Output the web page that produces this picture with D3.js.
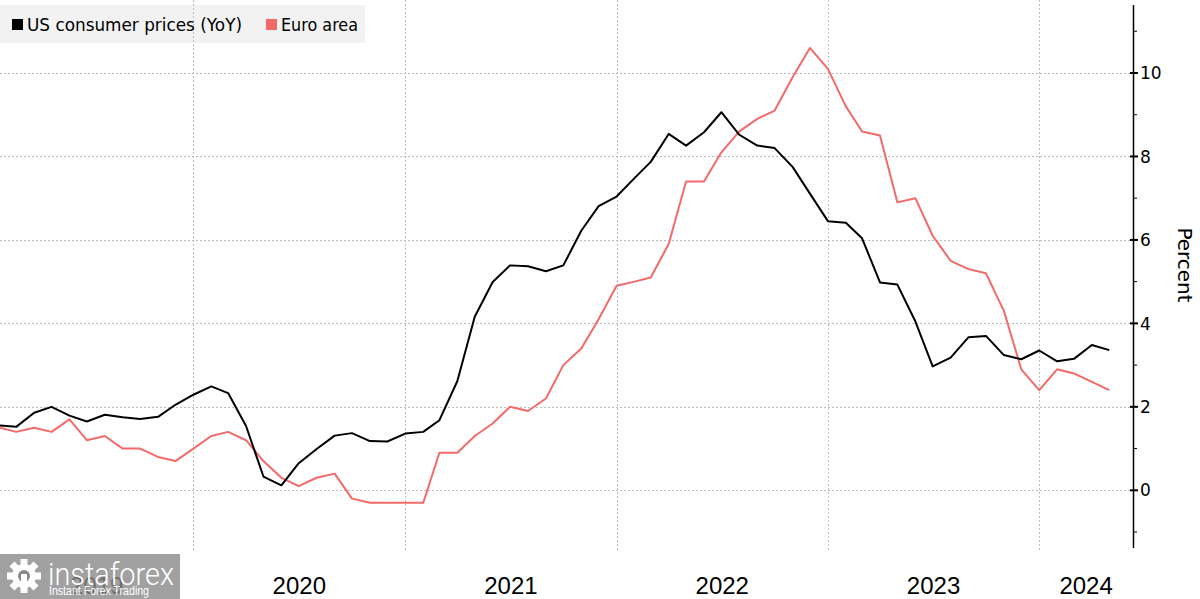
<!DOCTYPE html>
<html><head><meta charset="utf-8">
<script src="https://cdn.jsdelivr.net/npm/d3@7"></script>
<style>html,body{margin:0;padding:0;background:#fff;}svg{display:block;}</style>
</head><body>
<svg id="chart" width="1200" height="599"></svg>
<script>
// Monthly periods (values plotted at month end)
const months = d3.range(0, 64).map(i => d3.timeMonth.offset(new Date(2019, 0, 1), i));
const usCPI = [1.55,1.52,1.86,2.0,1.79,1.65,1.81,1.75,1.71,1.76,2.05,2.29,
  2.49,2.33,1.54,0.33,0.12,0.65,0.99,1.31,1.37,1.18,1.17,1.36,
  1.40,1.68,2.62,4.16,4.99,5.39,5.37,5.25,5.39,6.22,6.81,7.04,
  7.48,7.87,8.54,8.26,8.58,9.06,8.52,8.26,8.20,7.75,7.11,6.45,
  6.41,6.04,4.98,4.93,4.05,2.97,3.18,3.67,3.70,3.24,3.14,3.35,
  3.09,3.15,3.48,3.36];
const euroArea = [1.5,1.4,1.5,1.4,1.7,1.2,1.3,1.0,1.0,0.8,0.7,1.0,
  1.3,1.4,1.2,0.7,0.3,0.1,0.3,0.4,-0.2,-0.3,-0.3,-0.3,
  -0.3,0.9,0.9,1.3,1.6,2.0,1.9,2.2,3.0,3.4,4.1,4.9,
  5.0,5.1,5.9,7.4,7.4,8.1,8.6,8.9,9.1,9.9,10.6,10.1,
  9.2,8.6,8.5,6.9,7.0,6.1,5.5,5.3,5.2,4.3,2.9,2.4,
  2.9,2.8,2.6,2.4];
const yTicks = [0,2,4,6,8,10];
const yMinor = [-1,1,3,5,7,9,11];
const years = [2019,2020,2021,2022,2023,2024];
const seriesNames = ["US consumer prices (YoY)", "Euro area"];
const seriesColors = ["#000000", "#f26a6a"];

const svg = d3.select("#chart");
const axisX = 1133, plotTop = 5, plotBottom = 548;
const x = d3.scaleTime().domain([new Date(2019,1,1), new Date(2024,5,11)]).range([0, axisX]);
const y = d3.scaleLinear().domain([0, 10]).range([490.3, 73]);
const xPos = d => x(d3.timeMonth.offset(d, 1));

// legend background (under grid)
svg.append("rect").attr("x",0).attr("y",5).attr("width",365).attr("height",38).attr("fill","#f2f2f2");

// grid
const grid = svg.append("g").attr("stroke","#bdbdbd").attr("stroke-width",1).attr("stroke-dasharray","2,2");
grid.selectAll("line.h").data(yTicks).join("line").attr("class","h")
  .attr("x1",0).attr("x2",axisX).attr("y1",d=>Math.round(y(d))+0.5).attr("y2",d=>Math.round(y(d))+0.5);
const yearStarts = years.slice(1).map(yr => new Date(yr,0,1));
grid.selectAll("line.v").data(yearStarts).join("line").attr("class","v")
  .attr("x1",d=>Math.round(x(d))+0.5).attr("x2",d=>Math.round(x(d))+0.5).attr("y1",0).attr("y2",552);

// lines
const line = d3.line().x((d,i)=>xPos(months[i])).y(d=>y(d));
svg.append("path").datum(euroArea).attr("d",line).attr("fill","none")
  .attr("stroke",seriesColors[1]).attr("stroke-width",2).attr("stroke-linejoin","round");
svg.append("path").datum(usCPI).attr("d",line).attr("fill","none")
  .attr("stroke",seriesColors[0]).attr("stroke-width",2).attr("stroke-linejoin","round");

// right axis
const ax = svg.append("g");
ax.append("line").attr("x1",axisX+0.5).attr("x2",axisX+0.5).attr("y1",plotTop).attr("y2",plotBottom)
  .attr("stroke","#000").attr("stroke-width",1.5);
ax.selectAll("line.maj").data(yTicks).join("line").attr("class","maj")
  .attr("x1",axisX-3).attr("x2",axisX+5).attr("y1",d=>y(d)).attr("y2",d=>y(d))
  .attr("stroke","#000").attr("stroke-width",2);
ax.selectAll("line.min").data(yMinor).join("line").attr("class","min")
  .attr("x1",axisX).attr("x2",axisX+4).attr("y1",d=>y(d)).attr("y2",d=>y(d))
  .attr("stroke","#000").attr("stroke-width",1);
ax.selectAll("text").data(yTicks).join("text")
  .attr("x",axisX+7).attr("y",d=>y(d)).attr("dy","0.36em")
  .attr("font-family","DejaVu Sans, Verdana, sans-serif").attr("font-size",17).attr("fill","#000")
  .text(d=>d);
svg.append("text").attr("transform",`translate(1178,265) rotate(90)`).attr("text-anchor","middle")
  .attr("font-family","DejaVu Sans, Verdana, sans-serif").attr("font-size",20).attr("fill","#000").text("Percent");

// x labels
const [d0,d1] = x.domain();
svg.append("g").selectAll("text").data(years).join("text")
  .attr("x", yr => { const a = Math.max(x(new Date(yr,0,1)), x(d0)); const b = Math.min(x(new Date(yr+1,0,1)), x(d1)); return (a+b)/2; })
  .attr("y",594).attr("text-anchor","middle")
  .attr("font-family","Liberation Sans Narrow, Arial Narrow, sans-serif").attr("font-size",24).attr("fill","#000")
  .text(d=>d);

// legend
const lg = svg.append("g").attr("font-family","DejaVu Sans, Verdana, sans-serif").attr("font-size",17);
const legX = [12, 266], legTextW = [215, 77];
seriesNames.forEach((n,i)=>{
  lg.append("rect").attr("x",legX[i]).attr("y",19).attr("width",11).attr("height",11).attr("fill",seriesColors[i]);
  lg.append("text").attr("x",legX[i]+15).attr("y",31).attr("fill","#000")
    .attr("textLength",legTextW[i]).attr("lengthAdjust","spacingAndGlyphs").text(n);
});

// watermark (semi-transparent over the 2019 label)
const wm = svg.append("g");
wm.append("rect").attr("x",0).attr("y",554).attr("width",180).attr("height",45).attr("fill","#8a8a8a").attr("opacity",0.8);
const gear = wm.append("g").attr("transform","translate(24,576)").attr("fill","#fff");
d3.range(8).forEach(k=>{
  gear.append("rect").attr("x",-3.5).attr("y",-17).attr("width",7).attr("height",8)
    .attr("transform",`rotate(${k*45})`);
});
gear.append("circle").attr("r",12).attr("fill","#fff");
gear.append("circle").attr("r",6).attr("fill","#8a8a8a");
gear.append("rect").attr("x",-3).attr("y",-2).attr("width",6).attr("height",16).attr("fill","#fff");
wm.append("text").attr("x",48).attr("y",585).attr("fill","#fff")
  .attr("font-family","Roboto, Liberation Sans, sans-serif").attr("font-weight",300).attr("font-size",31)
  .attr("textLength",126).attr("lengthAdjust","spacingAndGlyphs").text("instaforex");
wm.append("text").attr("x",49).attr("y",595).attr("fill","#fff")
  .attr("font-family","Liberation Sans Narrow, Arial Narrow, sans-serif").attr("font-size",12)
  .attr("textLength",100).attr("lengthAdjust","spacingAndGlyphs").text("Instant Forex Trading");
</script>
</body></html>
